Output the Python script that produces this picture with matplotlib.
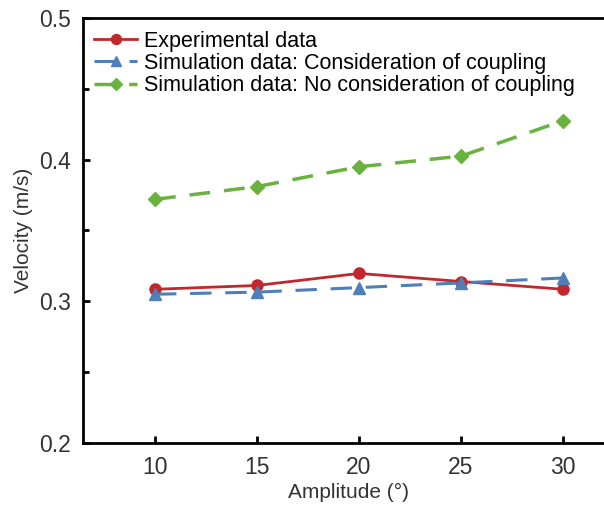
import matplotlib
matplotlib.use("Agg")
import matplotlib.pyplot as plt
from matplotlib.ticker import MultipleLocator

plt.rcParams["font.family"] = ["Liberation Sans", "DejaVu Sans"]

amplitude = [10, 15, 20, 25, 30]
exp_data = [0.3085, 0.3112, 0.3197, 0.3140, 0.3085]
sim_coupled = [0.3050, 0.3065, 0.3097, 0.3130, 0.3165]
sim_uncoupled = [0.3720, 0.3810, 0.3950, 0.4025, 0.4275]

fig = plt.figure(figsize=(6.04, 5.05), dpi=100)
ax = fig.add_axes([83 / 604, 1 - 443 / 505, 530 / 604, 425 / 505])

ax.plot(amplitude, exp_data, color="#c0282d", lw=2, marker="o", ms=8,
        label="Experimental data")
ax.plot(amplitude, sim_coupled, color="#4f7fb8", lw=2.2, ls=(0, (7, 4.5)),
        marker="^", ms=8, label="Simulation data: Consideration of coupling")
ax.plot(amplitude, sim_uncoupled, color="#6ab23e", lw=2.5, ls=(0, (6, 4)),
        marker="D", ms=7, label="Simulation data: No consideration of coupling")

ax.set_xlim(6.47, 32.45)
ax.set_ylim(0.2, 0.5)
ax.set_xticks(amplitude)
ax.yaxis.set_major_locator(MultipleLocator(0.1))
ax.yaxis.set_minor_locator(MultipleLocator(0.05))
ax.yaxis.set_major_formatter(plt.FuncFormatter(lambda v, _: f"{v:.1f}"))

ax.tick_params(axis="both", which="major", direction="in", length=5, width=2,
               labelsize=16.5, labelcolor="#333333", pad=9)
ax.tick_params(axis="y", which="minor", direction="in", length=4, width=2)
for side in ["left", "bottom", "top"]:
    ax.spines[side].set_linewidth(2)
ax.spines["right"].set_visible(False)

ax.set_xlabel("Amplitude (°)", fontsize=15, color="#333333", labelpad=3)
ax.set_ylabel("Velocity (m/s)", fontsize=15, color="#333333", labelpad=4)

ax.legend(loc="upper left", frameon=False, fontsize=15.5, handlelength=2.0,
          handletextpad=0.3, labelspacing=0.05, borderaxespad=0.2,
          markerscale=0.9, bbox_to_anchor=(-0.003, 1.0))

fig.savefig("out.png", dpi=100)
